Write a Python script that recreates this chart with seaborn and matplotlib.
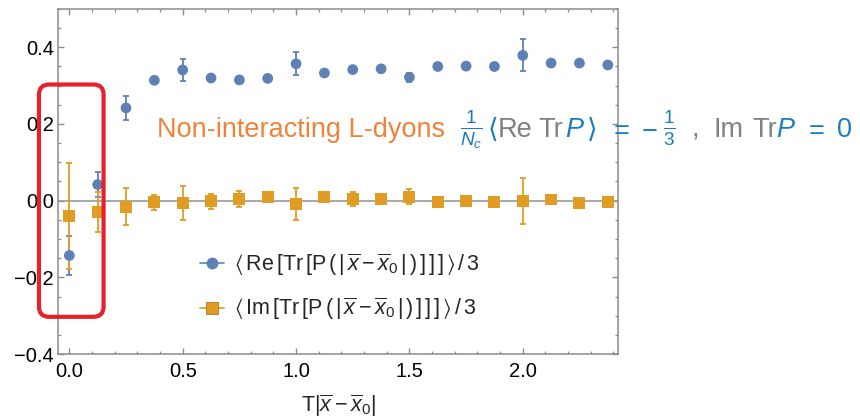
import numpy as np
import pandas as pd
import matplotlib
matplotlib.use("Agg")
import matplotlib.pyplot as plt
from matplotlib.lines import Line2D
from matplotlib.patches import FancyBboxPatch
from matplotlib.ticker import MultipleLocator, FuncFormatter
import seaborn as sns

# --- data -------------------------------------------------------------
distance = [0.0, 0.125, 0.25, 0.375, 0.5, 0.625, 0.75, 0.875, 1.0, 1.125,
            1.25, 1.375, 1.5, 1.625, 1.75, 1.875, 2.0, 2.125, 2.25, 2.375]
re_trp = [-0.143, 0.042, 0.242, 0.314, 0.341, 0.320, 0.315, 0.319, 0.357, 0.333,
          0.342, 0.344, 0.322, 0.350, 0.351, 0.350, 0.379, 0.359, 0.359, 0.354]
re_err = [0.050, 0.032, 0.032, 0.006, 0.028, 0.008, 0.006, 0.006, 0.030, 0.006,
          0.010, 0.006, 0.012, 0.005, 0.005, 0.005, 0.042, 0.005, 0.005, 0.005]
im_trp = [-0.039, -0.030, -0.016, -0.004, -0.007, -0.002, 0.004, 0.009, -0.008, 0.010,
          0.004, 0.004, 0.010, -0.004, -0.001, -0.004, -0.001, 0.003, -0.006, -0.003]
im_err = [0.138, 0.052, 0.048, 0.020, 0.044, 0.020, 0.020, 0.006, 0.042, 0.006,
          0.018, 0.006, 0.020, 0.005, 0.008, 0.005, 0.060, 0.006, 0.005, 0.010]

legend_labels = [
    r"$\langle\,\mathrm{Re}\,[\mathrm{Tr}\,[\mathrm{P}\,(\,|\,\overline{x}-\overline{x}_0\,|\,)\,]\,]\,]\,\rangle\,/\,3$",
    r"$\langle\,\mathrm{Im}\,[\mathrm{Tr}\,[\mathrm{P}\,(\,|\,\overline{x}-\overline{x}_0\,|\,)\,]\,]\,]\,\rangle\,/\,3$",
]
x_label = r"$\mathrm{T}|\overline{x}-\overline{x}_0|$"

df = pd.DataFrame({
    "x": distance * 2,
    "value": re_trp + im_trp,
    "err": re_err + im_err,
    "series": ["Re"] * len(distance) + ["Im"] * len(distance),
})

# --- style ------------------------------------------------------------
sns.set_style("ticks")
plt.rcParams["font.family"] = ["Liberation Sans", "DejaVu Sans"]
plt.rcParams["mathtext.fontset"] = "custom"
plt.rcParams["mathtext.rm"] = "Liberation Sans"
plt.rcParams["mathtext.it"] = "Liberation Sans:italic"
plt.rcParams["mathtext.bf"] = "Liberation Sans:bold"
plt.rcParams["mathtext.fallback"] = "stixsans"
plt.rcParams["axes.unicode_minus"] = True

BLUE = "#5E81B5"
ORANGE = "#E19C24"
FRAME = "#8C8C8C"

W, H = 860, 418
fig = plt.figure(figsize=(W / 100, H / 100), dpi=100)
ax = fig.add_axes([58 / W, 1 - 354 / H, 560 / W, 345 / H])

ax.axhline(0, color="#9A9A9A", lw=1.2, zorder=1)

colors = {"Re": BLUE, "Im": ORANGE}
for name, marker, size in [("Re", "o", 60), ("Im", "s", 74)]:
    sub = df[df["series"] == name]
    ax.errorbar(sub["x"], sub["value"], yerr=sub["err"], fmt="none",
                ecolor=colors[name], elinewidth=1.3, capsize=2.2, capthick=1.3,
                zorder=2)
    sns.scatterplot(data=sub, x="x", y="value", color=colors[name], marker=marker,
                    s=size, edgecolor="none", linewidth=0, ax=ax, zorder=3,
                    legend=False)

ax.set_xlim(-0.05, 2.42)
ax.set_ylim(-0.4, 0.5)
ax.xaxis.set_major_locator(MultipleLocator(0.5))
ax.xaxis.set_minor_locator(MultipleLocator(0.1))
ax.yaxis.set_major_locator(MultipleLocator(0.2))
ax.yaxis.set_minor_locator(MultipleLocator(0.05))
fmt = FuncFormatter(lambda v, p: f"{v:.1f}".replace("-", "\u2212") if abs(v) > 1e-9 else "0.0")
ax.xaxis.set_major_formatter(fmt)
ax.yaxis.set_major_formatter(fmt)
ax.set_yticks([-0.4, -0.2, 0.0, 0.2, 0.4])

ax.tick_params(which="both", direction="in", top=True, right=True, color=FRAME,
               labelsize=14.5, labelcolor="black")
ax.tick_params(which="major", length=4, width=1)
ax.tick_params(which="minor", length=2.4, width=0.9)
ax.tick_params(axis="x", pad=6)
ax.tick_params(axis="y", pad=3)
for sp in ax.spines.values():
    sp.set_color(FRAME)
    sp.set_linewidth(1.1)

ax.set_xlabel(x_label, fontsize=15.5, labelpad=8)
ax.set_ylabel("")

# legend
handles = [Line2D([], [], color=BLUE, marker="o", markersize=7.5, lw=1.2),
           Line2D([], [], color=ORANGE, marker="s", markersize=8.5, lw=1.2,
                  markeredgecolor="#B07818", markeredgewidth=0.6)]
ax.legend(handles, legend_labels, loc="center left",
          bbox_to_anchor=(200 / W, 1 - 287 / H), bbox_transform=fig.transFigure,
          frameon=False, borderpad=0, borderaxespad=0, handlelength=1.1,
          handletextpad=0.47, labelspacing=0.85, fontsize=15.5)

# highlight box around the smallest separations
box = FancyBboxPatch((-0.134, -0.303), 0.285, 0.606,
                     boxstyle="round,pad=0,rounding_size=0.045",
                     mutation_aspect=226.7 / 383.75,
                     transform=ax.transData, clip_on=False, fill=False,
                     ec="#E8202A", lw=3.0, zorder=10)
ax.add_patch(box)

# coloured annotation, each token placed along one baseline
TXT_OR, TXT_BL, TXT_GR = "#F0823A", "#1A7BC4", "#808080"
tokens = [
    ("Non-interacting L-dyons", TXT_OR, 157),
    (r"$\frac{1}{N_c}$", TXT_BL, 460),
    ("\u27e8", TXT_BL, 488),
    ("Re", TXT_GR, 498),
    ("Tr", TXT_GR, 538),
    (r"$P$", TXT_BL, 565),
    ("\u27e9", TXT_BL, 587),
    (r"$=$", TXT_BL, 609),
    (r"$-$", TXT_BL, 641),
    (r"$\frac{1}{3}$", TXT_BL, 663),
    (",", TXT_GR, 692),
    ("Im", TXT_GR, 714),
    ("Tr", TXT_GR, 752),
    (r"$P$", TXT_BL, 776),
    (r"$=$", TXT_BL, 804),
    ("0", TXT_BL, 837),
]
for txt, col, xs in tokens:
    fig.text(xs / W, 1 - 137 / H, txt, color=col, fontsize=19.5,
             ha="left", va="baseline")

fig.savefig("out.png", dpi=100)
